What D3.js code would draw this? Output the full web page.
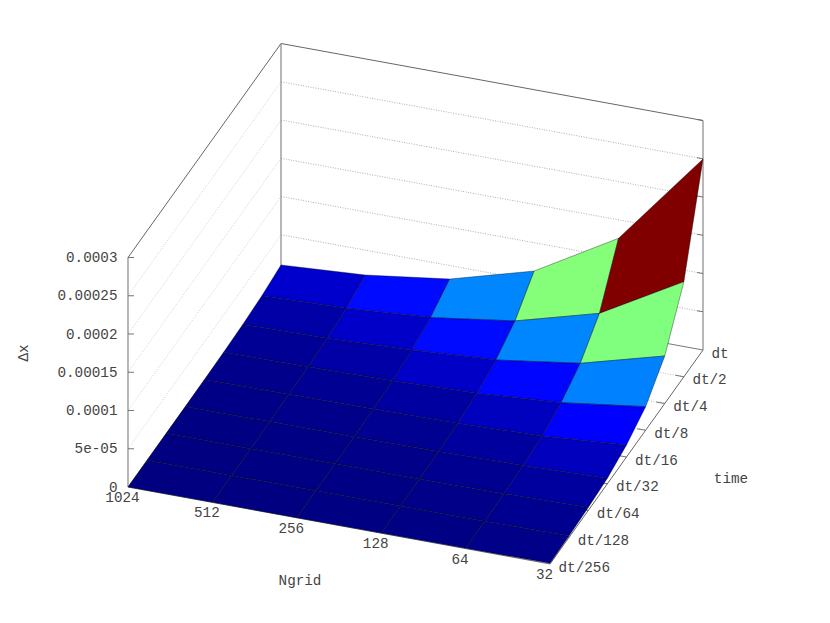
<!DOCTYPE html>
<html>
<head>
<meta charset="utf-8">
<script src="https://cdn.jsdelivr.net/npm/d3@7"></script>
<style>
  html, body { margin: 0; padding: 0; background: #fff; }
  text { font-family: "Liberation Mono", monospace; font-size: 14.3px; fill: #444; }
</style>
</head>
<body>
<div id="chart-placeholder"></div>
<script>
var width = 830, height = 623;

var ngridLabels = ['1024', '512', '256', '128', '64', '32'];
var timeLabels = ['dt/256', 'dt/128', 'dt/64', 'dt/32', 'dt/16', 'dt/8', 'dt/4', 'dt/2', 'dt'];
var zTicks = [0, 0.00005, 0.0001, 0.00015, 0.0002, 0.00025, 0.0003];
var zTickLabels = ['0', '5e-05', '0.0001', '0.00015', '0.0002', '0.00025', '0.0003'];

// one row per time label, one column per ngrid label
var dx_dt256 = [0.00e-5, 0.01e-5, 0.01e-5, 0.02e-5, 0.05e-5, 0.09e-5];
var dx_dt128 = [0.01e-5, 0.02e-5, 0.03e-5, 0.05e-5, 0.09e-5, 0.20e-5];
var dx_dt64  = [0.02e-5, 0.03e-5, 0.06e-5, 0.10e-5, 0.19e-5, 0.39e-5];
var dx_dt32  = [0.03e-5, 0.07e-5, 0.11e-5, 0.20e-5, 0.37e-5, 0.72e-5];
var dx_dt16  = [0.07e-5, 0.14e-5, 0.22e-5, 0.39e-5, 0.73e-5, 1.57e-5];
var dx_dt8   = [0.13e-5, 0.25e-5, 0.44e-5, 0.80e-5, 1.59e-5, 3.08e-5];
var dx_dt4   = [0.26e-5, 0.47e-5, 0.95e-5, 1.66e-5, 3.24e-5, 6.21e-5];
var dx_dt2   = [0.52e-5, 0.89e-5, 1.69e-5, 3.27e-5, 6.27e-5, 12.42e-5];
var dx_dt1   = [1.05e-5, 1.75e-5, 3.24e-5, 6.30e-5, 12.59e-5, 24.97e-5];
var dxRows = [dx_dt256, dx_dt128, dx_dt64, dx_dt32, dx_dt16, dx_dt8, dx_dt4, dx_dt2, dx_dt1];

var svg = d3.select('#chart-placeholder')
    .append('svg')
    .attr('width', width)
    .attr('height', height)
    .style('display', 'block');

// fractions along the two floor axes and the height in pixels
var u = d3.scalePoint().domain(ngridLabels).range([0, 1]);
var v = d3.scalePoint().domain(timeLabels).range([0, 1]);
var zh = d3.scaleLinear().domain([0, 0.0003]).range([0, 229.5]);

// parallel projection: floor origin at 1024/dt/256, then the two floor edges
function project(ng, t, z) {
  return [
    128 + 422 * u(ng) + 153 * v(t),
    487 + 77 * u(ng) - 214 * v(t) - zh(z)
  ];
}

var pathLine = d3.line();

function seg(a, b, stroke, sw, dash) {
  var p = svg.append('path')
      .attr('d', pathLine([a, b]))
      .attr('fill', 'none')
      .attr('stroke', stroke)
      .attr('stroke-width', sw);
  if (dash) p.attr('stroke-dasharray', dash);
  return p;
}

var first = ngridLabels[0], last = ngridLabels[5];
var tFront = timeLabels[0], tBack = timeLabels[8];
var zTop = zTicks[6];

// z grid on the two walls
zTicks.slice(1, 6).forEach(function(z) {
  seg(project(first, tFront, z), project(first, tBack, z), '#c4c4c4', 0.8, '1,1.5');
  seg(project(first, tBack, z), project(last, tBack, z), '#999', 0.8, '1,1.5');
});

// time grid on the floor
timeLabels.slice(1, 8).forEach(function(t) {
  seg(project(first, t, 0), project(last, t, 0), '#aaa', 0.8, '1,1.5');
});

// box
seg(project(first, tFront, 0), project(last, tFront, 0), '#555', 0.8);
seg(project(first, tBack, 0), project(last, tBack, 0), '#555', 0.8);
seg(project(first, tFront, 0), project(first, tBack, 0), '#555', 0.8);
seg(project(last, tFront, 0), project(last, tBack, 0), '#555', 0.9);
seg(project(first, tFront, zTop), project(first, tBack, zTop), '#555', 0.9);
seg(project(first, tBack, zTop), project(last, tBack, zTop), '#555', 0.9);
seg(project(first, tFront, 0), project(first, tFront, zTop), '#888', 1.2);
seg(project(first, tBack, 0), project(first, tBack, zTop), '#888', 1.2);
seg(project(last, tBack, 0), project(last, tBack, zTop), '#888', 1.2);

// z tics, left and mirrored on the right
zTicks.slice(1).forEach(function(z) {
  var a = project(first, tFront, z), b = project(last, tBack, z);
  seg(a, [a[0] + 6, a[1]], '#666', 0.9);
  seg(b, [b[0] - 6, b[1] - 1], '#666', 0.9);
});

// time tics
timeLabels.slice(1, 8).forEach(function(t) {
  var a = project(last, t, 0);
  seg(a, [a[0] - 8.4, a[1] - 1.5], '#666', 0.9);
});

// surface colour: jet palette over the range of the cell means
var cells = [];
d3.range(timeLabels.length - 2, -1, -1).forEach(function(j) {
  d3.range(ngridLabels.length - 1).forEach(function(i) {
    var corners = [[i, j], [i + 1, j], [i + 1, j + 1], [i, j + 1]];
    cells.push({
      points: corners.map(function(c) {
        return project(ngridLabels[c[0]], timeLabels[c[1]], dxRows[c[1]][c[0]]);
      }),
      mean: d3.mean(corners, function(c) { return dxRows[c[1]][c[0]]; })
    });
  });
});

var jet = d3.scaleLinear()
    .domain([0, 0.125, 0.375, 0.625, 0.875, 1])
    .range(['#000080', '#0000ff', '#00ffff', '#ffff00', '#ff0000', '#800000'])
    .clamp(true);
var cb = d3.scaleLinear().domain([0, d3.max(cells, function(d) { return d.mean; })]).range([0, 1]);

svg.append('g')
    .selectAll('path')
    .data(cells)
    .enter().append('path')
      .attr('d', function(d) { return pathLine(d.points) + 'Z'; })
      .attr('fill', function(d) { return jet(cb(d.mean)); })
      .attr('stroke', '#000')
      .attr('stroke-opacity', 0.6)
      .attr('stroke-width', 0.6)
      .attr('stroke-linejoin', 'round');

// tick labels
svg.append('g')
    .selectAll('text')
    .data(zTicks)
    .enter().append('text')
      .attr('x', 117.5)
      .attr('y', function(d) { return project(first, tFront, d)[1]; })
      .attr('dy', '0.32em')
      .attr('text-anchor', 'end')
      .text(function(d, i) { return zTickLabels[i]; });

svg.append('g')
    .selectAll('text')
    .data(ngridLabels)
    .enter().append('text')
      .attr('x', function(d) { return project(d, tFront, 0)[0] - 5.5; })
      .attr('y', function(d) { return project(d, tFront, 0)[1] + 10.5; })
      .attr('dy', '0.32em')
      .attr('text-anchor', 'middle')
      .text(function(d) { return d; });

svg.append('g')
    .selectAll('text')
    .data(timeLabels)
    .enter().append('text')
      .attr('x', function(d) { return project(last, d, 0)[0] + 8.5; })
      .attr('y', function(d) { return project(last, d, 0)[1] + 3; })
      .attr('dy', '0.32em')
      .text(function(d) { return d; });

// axis titles
svg.append('text').attr('x', 300).attr('y', 580).attr('dy', '0.32em')
    .attr('text-anchor', 'middle').text('Ngrid');
svg.append('text').attr('x', 731).attr('y', 478).attr('dy', '0.32em')
    .attr('text-anchor', 'middle').text('time');
svg.append('text')
    .attr('transform', 'translate(23,353) rotate(-90)')
    .attr('dy', '0.32em')
    .attr('text-anchor', 'middle')
    .text('Δx');
</script>
</body>
</html>
